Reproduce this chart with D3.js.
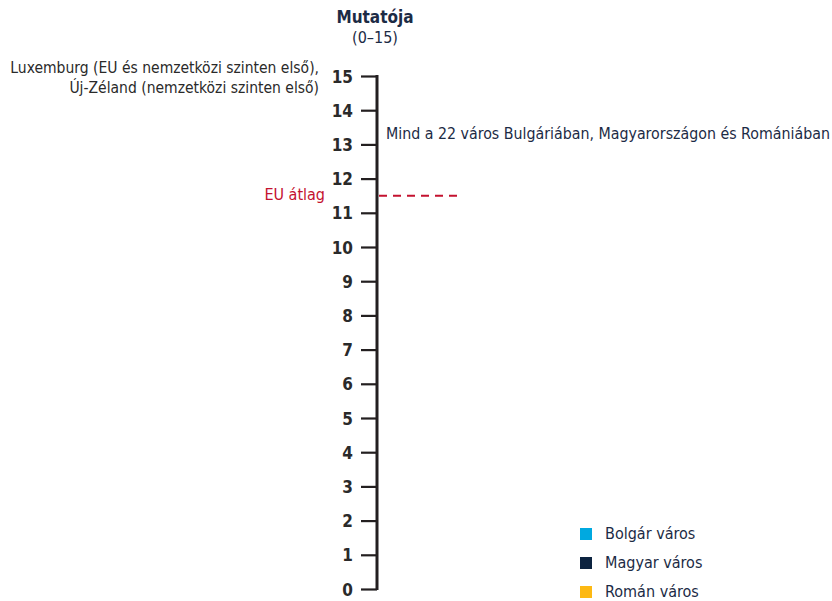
<!DOCTYPE html>
<html lang="hu">
<head>
<meta charset="UTF-8">
<title>Mutatója</title>
<style>
  body { margin: 0; background: #fff; }
  svg text { font-family: "Liberation Sans Narrow", "DejaVu Sans Condensed", "Roboto Condensed", sans-serif; }
</style>
</head>
<body>
<script src="https://d3js.org/d3.v7.min.js"></script>
<div id="chart"></div>
<script>
  // adatok
  var tickValues = d3.range(0, 16);
  var domainMin = 0, domainMax = 15;
  var euAverage = 11.5;
  var euLabel = "EU átlag";
  var topLabel = ["Luxemburg (EU és nemzetközi szinten első),", "Új-Zéland (nemzetközi szinten első)"];
  var topValue = 15;
  var allCitiesLabel = "Mind a 22 város Bulgáriában, Magyarországon és Romániában";
  var allCitiesValue = 13.3;
  var legendNames = ["Bolgár város", "Magyar város", "Román város"];
  var legendColors = ["#00a9e0", "#0c2340", "#fdb913"];

  var width = 832, height = 601;
  var axisX = 377;

  var svg = d3.select("#chart").append("svg")
      .attr("width", width)
      .attr("height", height);

  var y = d3.scaleLinear()
      .domain([domainMin, domainMax])
      .range([589, 76]);

  // tengely
  var axis = svg.append("g")
      .attr("transform", "translate(" + axisX + ",0)")
      .call(d3.axisLeft(y).tickValues(tickValues).tickSize(16).tickPadding(8).tickFormat(d3.format("d")));

  axis.select(".domain").remove();
  axis.selectAll(".tick line")
      .attr("stroke", "#231f20")
      .attr("stroke-width", 2.2);
  axis.selectAll(".tick text")
      .attr("fill", "#2a2a2a")
      .style("font-size", "17px")
      .style("font-weight", "bold")
      .attr("dy", "0.36em");

  svg.append("line")
      .attr("x1", axisX).attr("x2", axisX)
      .attr("y1", y(domainMax) - 1).attr("y2", y(domainMin) + 1)
      .attr("stroke", "#231f20")
      .attr("stroke-width", 3);

  // cím
  svg.append("text")
      .attr("x", axisX - 2).attr("y", 23)
      .attr("text-anchor", "middle")
      .attr("fill", "#1c2b45")
      .style("font-size", "17px")
      .style("font-weight", "bold")
      .text("Mutatója");
  svg.append("text")
      .attr("x", axisX - 2).attr("y", 43)
      .attr("text-anchor", "middle")
      .attr("fill", "#1c2b45")
      .style("font-size", "16px")
      .text("(0–15)");

  // EU átlag
  svg.append("line")
      .attr("x1", axisX + 2).attr("x2", 460)
      .attr("y1", y(euAverage)).attr("y2", y(euAverage))
      .attr("stroke", "#c4122f")
      .attr("stroke-width", 2)
      .attr("stroke-dasharray", "8,6");
  svg.append("text")
      .attr("x", 325).attr("y", y(euAverage) + 4)
      .attr("text-anchor", "end")
      .attr("fill", "#c4122f")
      .style("font-size", "16px")
      .text(euLabel);

  // felső címke
  svg.append("text")
      .attr("x", 319).attr("y", y(topValue) - 3)
      .attr("text-anchor", "end")
      .attr("fill", "#2a2a2a")
      .style("font-size", "15.5px")
      .selectAll("tspan")
      .data(topLabel)
      .join("tspan")
      .attr("x", 319)
      .attr("dy", function(d, i) { return i === 0 ? 0 : 20; })
      .text(function(d) { return d; });

  svg.append("text")
      .attr("x", 386).attr("y", y(allCitiesValue) + 5)
      .attr("fill", "#1c2b45")
      .style("font-size", "15.8px")
      .text(allCitiesLabel);

  // jelmagyarázat
  var legend = svg.append("g")
      .selectAll("g")
      .data(legendNames)
      .join("g")
      .attr("transform", function(d, i) { return "translate(580," + (534 + i * 29) + ")"; });
  legend.append("rect")
      .attr("x", 0).attr("y", -6)
      .attr("width", 12).attr("height", 12)
      .attr("fill", function(d, i) { return legendColors[i]; });
  legend.append("text")
      .attr("x", 25).attr("y", 5)
      .attr("fill", "#1c2b45")
      .style("font-size", "16px")
      .text(function(d) { return d; });
</script>
</body>
</html>
